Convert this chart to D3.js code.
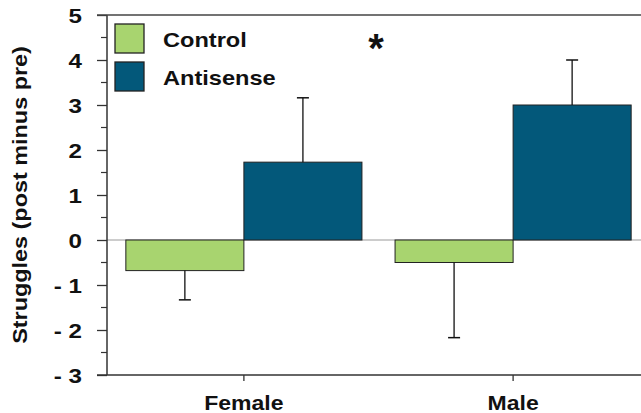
<!DOCTYPE html>
<html><head><meta charset="utf-8">
<script src="https://cdn.jsdelivr.net/npm/d3@7"></script>
<style>body{margin:0;background:#fff}svg{display:block;font-family:Arial,"Liberation Sans",sans-serif}</style>
</head><body>
<svg id="c" width="641" height="413"></svg>
<script>
const groups = ["Female", "Male"];
const series = ["Control", "Antisense"];
const means = { Control: [-0.68, -0.50], Antisense: [1.73, 3.00] };
const errors = { Control: [-1.33, -2.17], Antisense: [3.16, 4.00] };
const yTicks = [5, 4, 3, 2, 1, 0, -1, -2, -3];
const yTickLabels = ["5", "4", "3", "2", "1", "0", "- 1", "- 2", "- 3"];
const colors = { Control: "#a8d46f", Antisense: "#03587a" };

const FONT = "Arial, 'Liberation Sans', sans-serif";
const STRETCH = 1.15;
function stretch(sel, k) {
  sel.each(function () {
    const len = this.getComputedTextLength();
    d3.select(this).attr("textLength", len * k).attr("lengthAdjust", "spacingAndGlyphs");
  });
}

const svg = d3.select("#c");
const y = d3.scaleLinear().domain([-3, 5]).range([375, 15]);
const x = d3.scaleBand().domain(groups).range([107, 650]).paddingInner(0.123).paddingOuter(0.07);
const xs = d3.scaleBand().domain(series).range([0, x.bandwidth()]);

// zero line
svg.append("line").attr("x1", 107).attr("x2", 641).attr("y1", y(0)).attr("y2", y(0))
  .attr("stroke", "#9a9a9a").attr("stroke-width", 1);

// bars
groups.forEach((g, gi) => {
  series.forEach(s => {
    const v = means[s][gi];
    const bx = x(g) + xs(s);
    svg.append("rect").attr("x", bx).attr("width", xs.bandwidth())
      .attr("y", y(Math.max(0, v))).attr("height", Math.abs(y(v) - y(0)))
      .attr("fill", colors[s]).attr("stroke", "#222").attr("stroke-width", 1);
    const cx = bx + xs.bandwidth() / 2;
    const e = errors[s][gi];
    svg.append("line").attr("x1", cx).attr("x2", cx).attr("y1", y(v)).attr("y2", y(e))
      .attr("stroke", "#111").attr("stroke-width", 1.3);
    svg.append("line").attr("x1", cx - 6).attr("x2", cx + 6).attr("y1", y(e)).attr("y2", y(e))
      .attr("stroke", "#111").attr("stroke-width", 1.5);
  });
});

// y axis
const yAxis = svg.append("g").attr("transform", "translate(107,0)")
  .call(d3.axisLeft(y).tickValues(yTicks).tickSize(10).tickPadding(15)
    .tickFormat((d, i) => yTickLabels[i]));
yAxis.select(".domain").remove();
yAxis.selectAll(".tick line").attr("stroke", "#333").attr("stroke-width", 1.3);
yAxis.selectAll(".tick text").attr("font-size", 21).attr("font-weight", "bold").attr("fill", "#111")
  .attr("font-family", FONT).attr("dy", "0.36em");
stretch(yAxis.selectAll(".tick text"), STRETCH);
// minor ticks
const minor = d3.range(-2.5, 5, 1);
svg.append("g").selectAll("line").data(minor).join("line")
  .attr("x1", 101).attr("x2", 107).attr("y1", d => y(d)).attr("y2", d => y(d))
  .attr("stroke", "#333").attr("stroke-width", 1.2);
svg.append("line").attr("x1", 107).attr("x2", 107).attr("y1", 15).attr("y2", 375)
  .attr("stroke", "#333").attr("stroke-width", 1.5);

// top & bottom frame lines
svg.append("line").attr("x1", 97).attr("x2", 641).attr("y1", 15).attr("y2", 15)
  .attr("stroke", "#444").attr("stroke-width", 1.5);
svg.append("line").attr("x1", 97).attr("x2", 641).attr("y1", 375).attr("y2", 375)
  .attr("stroke", "#333").attr("stroke-width", 1.5);

// x axis ticks + labels
const xAxis = svg.append("g").attr("transform", "translate(0,375)")
  .call(d3.axisBottom(x).tickSize(6).tickPadding(0));
xAxis.select(".domain").remove();
xAxis.selectAll(".tick line").attr("stroke", "#333").attr("stroke-width", 1.3);
xAxis.selectAll(".tick text").attr("font-size", 20).attr("font-weight", "bold").attr("fill", "#111")
  .attr("font-family", FONT).attr("y", 35).attr("dy", null);
stretch(xAxis.selectAll(".tick text"), STRETCH);

// y axis title
const title = svg.append("text").attr("transform", "translate(27,195) rotate(-90)")
  .attr("text-anchor", "middle").attr("font-size", 20).attr("font-weight", "bold").attr("fill", "#111")
  .text("Struggles (post minus pre)");
stretch(title, 1.17);

// legend
series.forEach((s, i) => {
  const ly = 24 + i * 38;
  svg.append("rect").attr("x", 115).attr("y", ly).attr("width", 29).attr("height", 29)
    .attr("fill", colors[s]).attr("stroke", "#222").attr("stroke-width", 1.3);
  const t = svg.append("text").attr("x", 163).attr("y", ly + 23).attr("font-size", 20.5).attr("font-weight", "bold")
    .attr("fill", "#111").text(s);
  stretch(t, STRETCH);
});

// significance marker
svg.append("text").attr("x", 376).attr("y", 62).attr("text-anchor", "middle")
  .attr("font-size", 40).attr("font-weight", "bold").attr("fill", "#111").text("*");
</script>
</body></html>
